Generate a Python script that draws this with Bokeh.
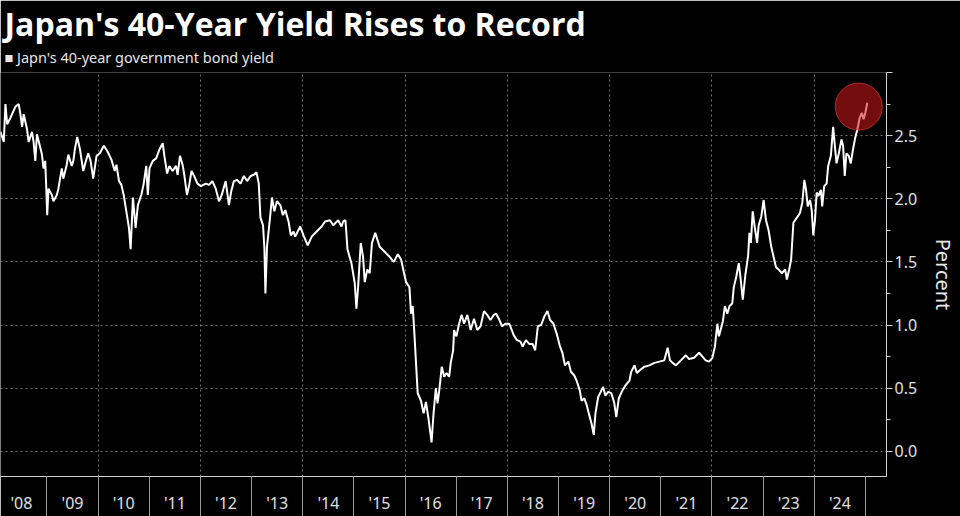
from bokeh.plotting import figure
from bokeh.models import (FixedTicker, CustomJSTickFormatter, Title,
                          ColumnDataSource, Range1d)
from bokeh.embed import file_html
from bokeh.resources import INLINE

# ---------------- data ----------------
years = [
    2008.091, 2008.155, 2008.188, 2008.221, 2008.285, 2008.383, 2008.447, 2008.480, 2008.513, 2008.544,
    2008.610, 2008.641, 2008.707, 2008.738, 2008.771, 2008.804, 2008.854, 2008.901, 2008.932, 2008.965,
    2008.988, 2009.004, 2009.029, 2009.095, 2009.126, 2009.192, 2009.223, 2009.289, 2009.320, 2009.386,
    2009.417, 2009.483, 2009.515, 2009.548, 2009.592, 2009.645, 2009.709, 2009.761, 2009.806, 2009.852,
    2009.903, 2009.969, 2010.033, 2010.111, 2010.175, 2010.260, 2010.324, 2010.357, 2010.408, 2010.454,
    2010.499, 2010.551, 2010.602, 2010.635, 2010.680, 2010.732, 2010.777, 2010.843, 2010.887, 2010.940,
    2010.971, 2011.004, 2011.068, 2011.134, 2011.198, 2011.262, 2011.295, 2011.348, 2011.392, 2011.456,
    2011.522, 2011.553, 2011.600, 2011.650, 2011.684, 2011.736, 2011.781, 2011.825, 2011.878, 2011.942,
    2012.008, 2012.105, 2012.169, 2012.233, 2012.299, 2012.363, 2012.416, 2012.493, 2012.557, 2012.602,
    2012.654, 2012.718, 2012.784, 2012.849, 2012.913, 2012.979, 2013.043, 2013.095, 2013.140, 2013.173,
    2013.223, 2013.250, 2013.270, 2013.301, 2013.353, 2013.398, 2013.445, 2013.495, 2013.561, 2013.612,
    2013.658, 2013.722, 2013.767, 2013.819, 2013.852, 2013.950, 2014.014, 2014.097, 2014.175, 2014.272,
    2014.369, 2014.435, 2014.532, 2014.596, 2014.693, 2014.757, 2014.790, 2014.835, 2014.874, 2014.951,
    2015.017, 2015.049, 2015.082, 2015.134, 2015.179, 2015.212, 2015.262, 2015.309, 2015.353, 2015.417,
    2015.503, 2015.600, 2015.697, 2015.781, 2015.858, 2015.922, 2015.975, 2016.019, 2016.085, 2016.117,
    2016.150, 2016.183, 2016.214, 2016.247, 2016.311, 2016.363, 2016.408, 2016.454, 2016.493, 2016.518,
    2016.557, 2016.602, 2016.635, 2016.668, 2016.718, 2016.765, 2016.810, 2016.862, 2016.893, 2016.940,
    2016.959, 2017.004, 2017.056, 2017.107, 2017.153, 2017.218, 2017.282, 2017.348, 2017.412, 2017.476,
    2017.542, 2017.606, 2017.670, 2017.736, 2017.781, 2017.833, 2017.897, 2017.961, 2018.039, 2018.124,
    2018.188, 2018.252, 2018.299, 2018.363, 2018.427, 2018.493, 2018.544, 2018.596, 2018.660, 2018.726,
    2018.784, 2018.835, 2018.901, 2018.965, 2019.029, 2019.076, 2019.126, 2019.192, 2019.243, 2019.309,
    2019.353, 2019.417, 2019.450, 2019.503, 2019.548, 2019.592, 2019.645, 2019.689, 2019.722, 2019.775,
    2019.825, 2019.872, 2019.917, 2019.969, 2020.033, 2020.091, 2020.130, 2020.179, 2020.247, 2020.324,
    2020.388, 2020.421, 2020.485, 2020.532, 2020.583, 2020.680, 2020.777, 2020.874, 2020.971, 2021.068,
    2021.134, 2021.179, 2021.231, 2021.295, 2021.392, 2021.489, 2021.553, 2021.650, 2021.748, 2021.814,
    2021.878, 2021.942, 2022.008, 2022.058, 2022.105, 2022.136, 2022.169, 2022.214, 2022.252, 2022.299,
    2022.344, 2022.396, 2022.427, 2022.474, 2022.524, 2022.557, 2022.602, 2022.654, 2022.707, 2022.732,
    2022.761, 2022.796, 2022.835, 2022.882, 2022.913, 2022.965, 2023.010, 2023.056, 2023.107, 2023.159,
    2023.204, 2023.250, 2023.301, 2023.367, 2023.431, 2023.464, 2023.509, 2023.548, 2023.592, 2023.625,
    2023.678, 2023.722, 2023.767, 2023.806, 2023.839, 2023.872, 2023.917, 2023.950, 2023.981, 2024.014,
    2024.047, 2024.078, 2024.130, 2024.155, 2024.194, 2024.241, 2024.272, 2024.324, 2024.369, 2024.402,
    2024.435, 2024.480, 2024.532, 2024.563, 2024.596, 2024.629, 2024.674, 2024.713, 2024.757, 2024.804,
    2024.843, 2024.887, 2024.932, 2024.965, 2024.998, 2025.037,
]
yields = [
    2.53, 2.45, 2.75, 2.59, 2.64, 2.73, 2.75, 2.67, 2.57, 2.67,
    2.55, 2.45, 2.53, 2.45, 2.30, 2.51, 2.43, 2.35, 2.24, 2.30,
    2.06, 1.87, 2.08, 2.03, 1.98, 2.03, 2.08, 2.24, 2.16, 2.27,
    2.35, 2.26, 2.30, 2.40, 2.49, 2.39, 2.22, 2.30, 2.36, 2.30,
    2.16, 2.34, 2.36, 2.42, 2.38, 2.31, 2.22, 2.27, 2.14, 2.11,
    2.03, 1.90, 1.77, 1.60, 2.01, 1.77, 1.95, 2.03, 2.11, 2.26,
    2.03, 2.24, 2.30, 2.32, 2.39, 2.44, 2.34, 2.20, 2.26, 2.22,
    2.26, 2.19, 2.34, 2.27, 2.19, 2.03, 2.11, 2.22, 2.18, 2.12,
    2.10, 2.12, 2.11, 2.14, 2.08, 1.98, 2.03, 2.14, 1.95, 2.06,
    2.14, 2.15, 2.12, 2.18, 2.14, 2.18, 2.19, 2.21, 2.12, 1.85,
    1.79, 1.61, 1.25, 1.62, 1.82, 2.01, 1.90, 1.98, 1.95, 1.87,
    1.91, 1.82, 1.71, 1.74, 1.70, 1.78, 1.71, 1.63, 1.70, 1.74,
    1.78, 1.82, 1.83, 1.79, 1.83, 1.78, 1.82, 1.83, 1.60, 1.49,
    1.33, 1.13, 1.30, 1.65, 1.54, 1.34, 1.44, 1.41, 1.65, 1.73,
    1.62, 1.58, 1.54, 1.50, 1.56, 1.52, 1.42, 1.34, 1.30, 1.09,
    1.15, 0.93, 0.70, 0.46, 0.40, 0.30, 0.39, 0.27, 0.15, 0.07,
    0.30, 0.50, 0.38, 0.48, 0.67, 0.59, 0.62, 0.59, 0.70, 0.80,
    0.96, 0.91, 1.01, 1.08, 1.01, 1.08, 0.96, 1.05, 0.96, 0.99,
    1.11, 1.08, 1.04, 1.08, 1.09, 1.05, 0.99, 1.01, 1.01, 0.92,
    0.88, 0.87, 0.83, 0.88, 0.85, 0.85, 0.80, 0.99, 1.00, 1.07,
    1.11, 1.04, 1.01, 0.93, 0.83, 0.78, 0.68, 0.71, 0.63, 0.60,
    0.56, 0.48, 0.40, 0.42, 0.37, 0.30, 0.22, 0.13, 0.30, 0.43,
    0.47, 0.51, 0.44, 0.47, 0.46, 0.38, 0.27, 0.42, 0.48, 0.53,
    0.56, 0.63, 0.68, 0.62, 0.64, 0.67, 0.68, 0.70, 0.71, 0.72,
    0.82, 0.72, 0.70, 0.68, 0.72, 0.76, 0.73, 0.74, 0.78, 0.75,
    0.72, 0.71, 0.74, 0.83, 1.01, 0.91, 0.96, 1.03, 1.15, 1.09,
    1.15, 1.17, 1.30, 1.38, 1.49, 1.38, 1.20, 1.40, 1.55, 1.73,
    1.65, 1.90, 1.78, 1.65, 1.79, 1.86, 1.99, 1.83, 1.75, 1.62,
    1.54, 1.46, 1.44, 1.41, 1.44, 1.36, 1.44, 1.52, 1.81, 1.83,
    1.86, 1.89, 1.97, 2.15, 2.07, 1.94, 1.99, 1.91, 1.71, 1.83,
    2.05, 2.02, 2.07, 1.94, 2.10, 2.12, 2.26, 2.34, 2.57, 2.42,
    2.28, 2.36, 2.47, 2.42, 2.18, 2.36, 2.34, 2.28, 2.39, 2.49,
    2.55, 2.64, 2.68, 2.63, 2.68, 2.76,
]
highlight_year = [2024.87]
highlight_value = [2.73]

y_major = [0.0, 0.5, 1.0, 1.5, 2.0, 2.5, 3.0]
y_minor = [0.25, 0.75, 1.25, 1.75, 2.25, 2.75]
label_years = list(range(2008, 2025))
grid_years = [2010, 2012, 2014, 2016, 2018, 2020, 2022, 2024]

title_text = "Japan's 40-Year Yield Rises to Record"
legend_text = "\u25A0 Japn's 40-year government bond yield"
y_label = "Percent"

# ---------------- figure ----------------
p = figure(width=960, height=516, output_backend="svg", toolbar_location=None,
           x_range=Range1d(2008.091, 2025.412), y_range=Range1d(-0.2, 3.0),
           y_axis_location="right",
           background_fill_color="black", border_fill_color="black",
           min_border_left=0, min_border_right=68, min_border_top=72, min_border_bottom=40)
p.outline_line_color = None
p.title = None

# legend line (nearest the frame), then the main title on top of it
p.add_layout(Title(text=legend_text, text_color="#e6e6e6", text_font="Noto Sans",
                   text_font_size="14.5px", text_font_style="normal",
                   vertical_align="middle", offset=4, standoff=10), "above")
p.add_layout(Title(text=title_text, text_color="white", text_font="Open Sans",
                   text_font_size="32px", text_font_style="bold",
                   vertical_align="middle", offset=4, standoff=-11), "above")

src = ColumnDataSource(dict(x=years, y=yields))
p.line("x", "y", source=src, line_color="white", line_width=2)

p.scatter(x=highlight_year, y=highlight_value, size=47, marker="circle",
          fill_color="#d41a1a", fill_alpha=0.55, line_color="#e03a3a", line_alpha=0.7, line_width=1)

# x axis
xa = p.xaxis[0]
xa.ticker = FixedTicker(ticks=[y + 0.5 for y in label_years], minor_ticks=list(range(2009, 2026)))
xa.formatter = CustomJSTickFormatter(code="return \"'\" + String(Math.floor(tick)).slice(2);")
xa.major_tick_out = 0
xa.major_tick_in = 0
xa.minor_tick_out = 40
xa.minor_tick_in = 0
xa.minor_tick_line_color = "#9a9a9a"
xa.axis_line_color = "#cfcfcf"
xa.major_label_standoff = -25
xa.major_label_text_color = "#e0e0e0"
xa.major_label_text_font = "Noto Sans"
xa.major_label_text_font_size = "16px"

# y axis (right)
ya = p.yaxis[0]
ya.ticker = FixedTicker(ticks=y_major, minor_ticks=y_minor)
ya.formatter = CustomJSTickFormatter(code="return tick > 2.99 ? '' : tick.toFixed(1);")
ya.major_tick_out = 6
ya.major_tick_in = 0
ya.minor_tick_out = 4
ya.minor_tick_in = 0
ya.major_tick_line_color = "#cfcfcf"
ya.minor_tick_line_color = "#cfcfcf"
ya.axis_line_color = "#cfcfcf"
ya.major_label_standoff = 2
ya.major_label_text_color = "#e0e0e0"
ya.major_label_text_font = "Noto Sans"
ya.major_label_text_font_size = "16px"
ya.axis_label = y_label
ya.axis_label_text_color = "#e8e8e8"
ya.axis_label_text_font = "Noto Sans"
ya.axis_label_text_font_size = "20px"
ya.axis_label_text_font_style = "normal"
ya.axis_label_standoff = 10

# grids
p.xgrid.ticker = FixedTicker(ticks=grid_years)
for g in (p.xgrid[0], p.ygrid[0]):
    g.grid_line_color = "#8a8a8a"
    g.grid_line_dash = "2 3"
    g.grid_line_width = 1
    g.grid_line_alpha = 0.8

open("out.html", "w").write(file_html(p, INLINE))
